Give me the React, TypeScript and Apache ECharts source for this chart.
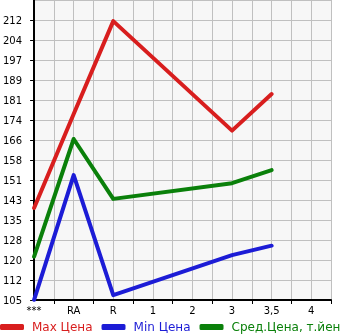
import React, { useEffect, useRef } from "react";
import * as echarts from "echarts";

const categories = ["***", "RA", "R", "1", "2", "3", "3,5", "4"];
const maxPrice: (number | null)[] = [139.9, 175.9, 211.4, null, null, 169.5, 183.5, null];
const minPrice: (number | null)[] = [104.8, 152.5, 106.6, null, null, 121.9, 125.5, null];
const avgPrice: (number | null)[] = [121.3, 166.3, 143.4, null, null, 149.4, 154.4, null];
const seriesNames = ["Max Цена", "Min Цена", "Сред.Цена, т.йен"];
const seriesColors = ["#d81e1e", "#1c1cd6", "#0a800a"];
const yMin = 104.72;
const yStep = 7.65;

// half-step axis: every category followed by an empty half-step slot
const axisCats: string[] = [];
categories.forEach((c, i) => {
  axisCats.push(c);
  axisCats.push("~" + i);
});
const expand = (arr: (number | null)[]) => {
  const out: (number | null)[] = [];
  arr.forEach((v) => {
    out.push(v);
    out.push(null);
  });
  return out;
};

export default function App() {
  const ref = useRef<HTMLDivElement>(null);
  useEffect(() => {
    if (!ref.current) return;
    const chart = echarts.init(ref.current, null, { renderer: "svg" });
    const datasets = [maxPrice, minPrice, avgPrice];
    chart.setOption({
      animation: false,
      textStyle: { fontFamily: "DejaVu Sans" },
      grid: {
        left: 31,
        right: 14,
        top: 0,
        bottom: 35,
        show: true,
        backgroundColor: "#f7f7f7",
        borderWidth: 0,
      },
      legend: {
        top: 321,
        left: 0,
        width: 360,
        padding: 0,
        itemWidth: 24,
        itemHeight: 6,
        itemGap: 9,
        icon: "roundRect",
        data: seriesNames.map((n, i) => ({
          name: n,
          textStyle: { color: seriesColors[i] },
        })),
        textStyle: { fontSize: 12, fontFamily: "DejaVu Sans", padding: [0, 0, 0, 3] },
      },
      xAxis: {
        type: "category",
        boundaryGap: false,
        data: axisCats,
        axisLine: { lineStyle: { color: "#000", width: 2 } },
        axisTick: {
          show: true,
          interval: (i: number) => i % 2 === 1,
          length: 4,
          lineStyle: { color: "#000" },
        },
        axisLabel: {
          interval: (i: number) => i % 2 === 0,
          formatter: (v: string) => (v.startsWith("~") ? "" : v),
          color: "#000",
          fontSize: 10,
          margin: 5,
          fontFamily: "DejaVu Sans",
        },
        splitLine: { show: true, interval: 0, lineStyle: { color: "#c0c0c0", width: 1 } },
      },
      yAxis: {
        type: "value",
        min: yMin,
        max: yMin + yStep * 15,
        interval: yStep,
        axisLine: { show: true, lineStyle: { color: "#000", width: 2 } },
        axisTick: { show: true, length: 4, lineStyle: { color: "#000" } },
        axisLabel: {
          showMaxLabel: false,
          color: "#000",
          fontSize: 10,
          margin: 12,
          fontFamily: "DejaVu Sans",
          formatter: (v: number) => String(Math.round(v)),
        },
        splitLine: { show: true, lineStyle: { color: "#c0c0c0", width: 1 } },
      },
      series: datasets.map((d, i) => ({
        name: seriesNames[i],
        type: "line",
        data: expand(d),
        connectNulls: true,
        showSymbol: false,
        symbol: "none",
        color: seriesColors[i],
        lineStyle: { width: 4, color: seriesColors[i], cap: "round", join: "round" },
      })),
    });
    return () => chart.dispose();
  }, []);
  return (
    <div
      ref={ref}
      style={{ position: "fixed", left: 0, top: 0, width: 345, height: 335 }}
    />
  );
}
